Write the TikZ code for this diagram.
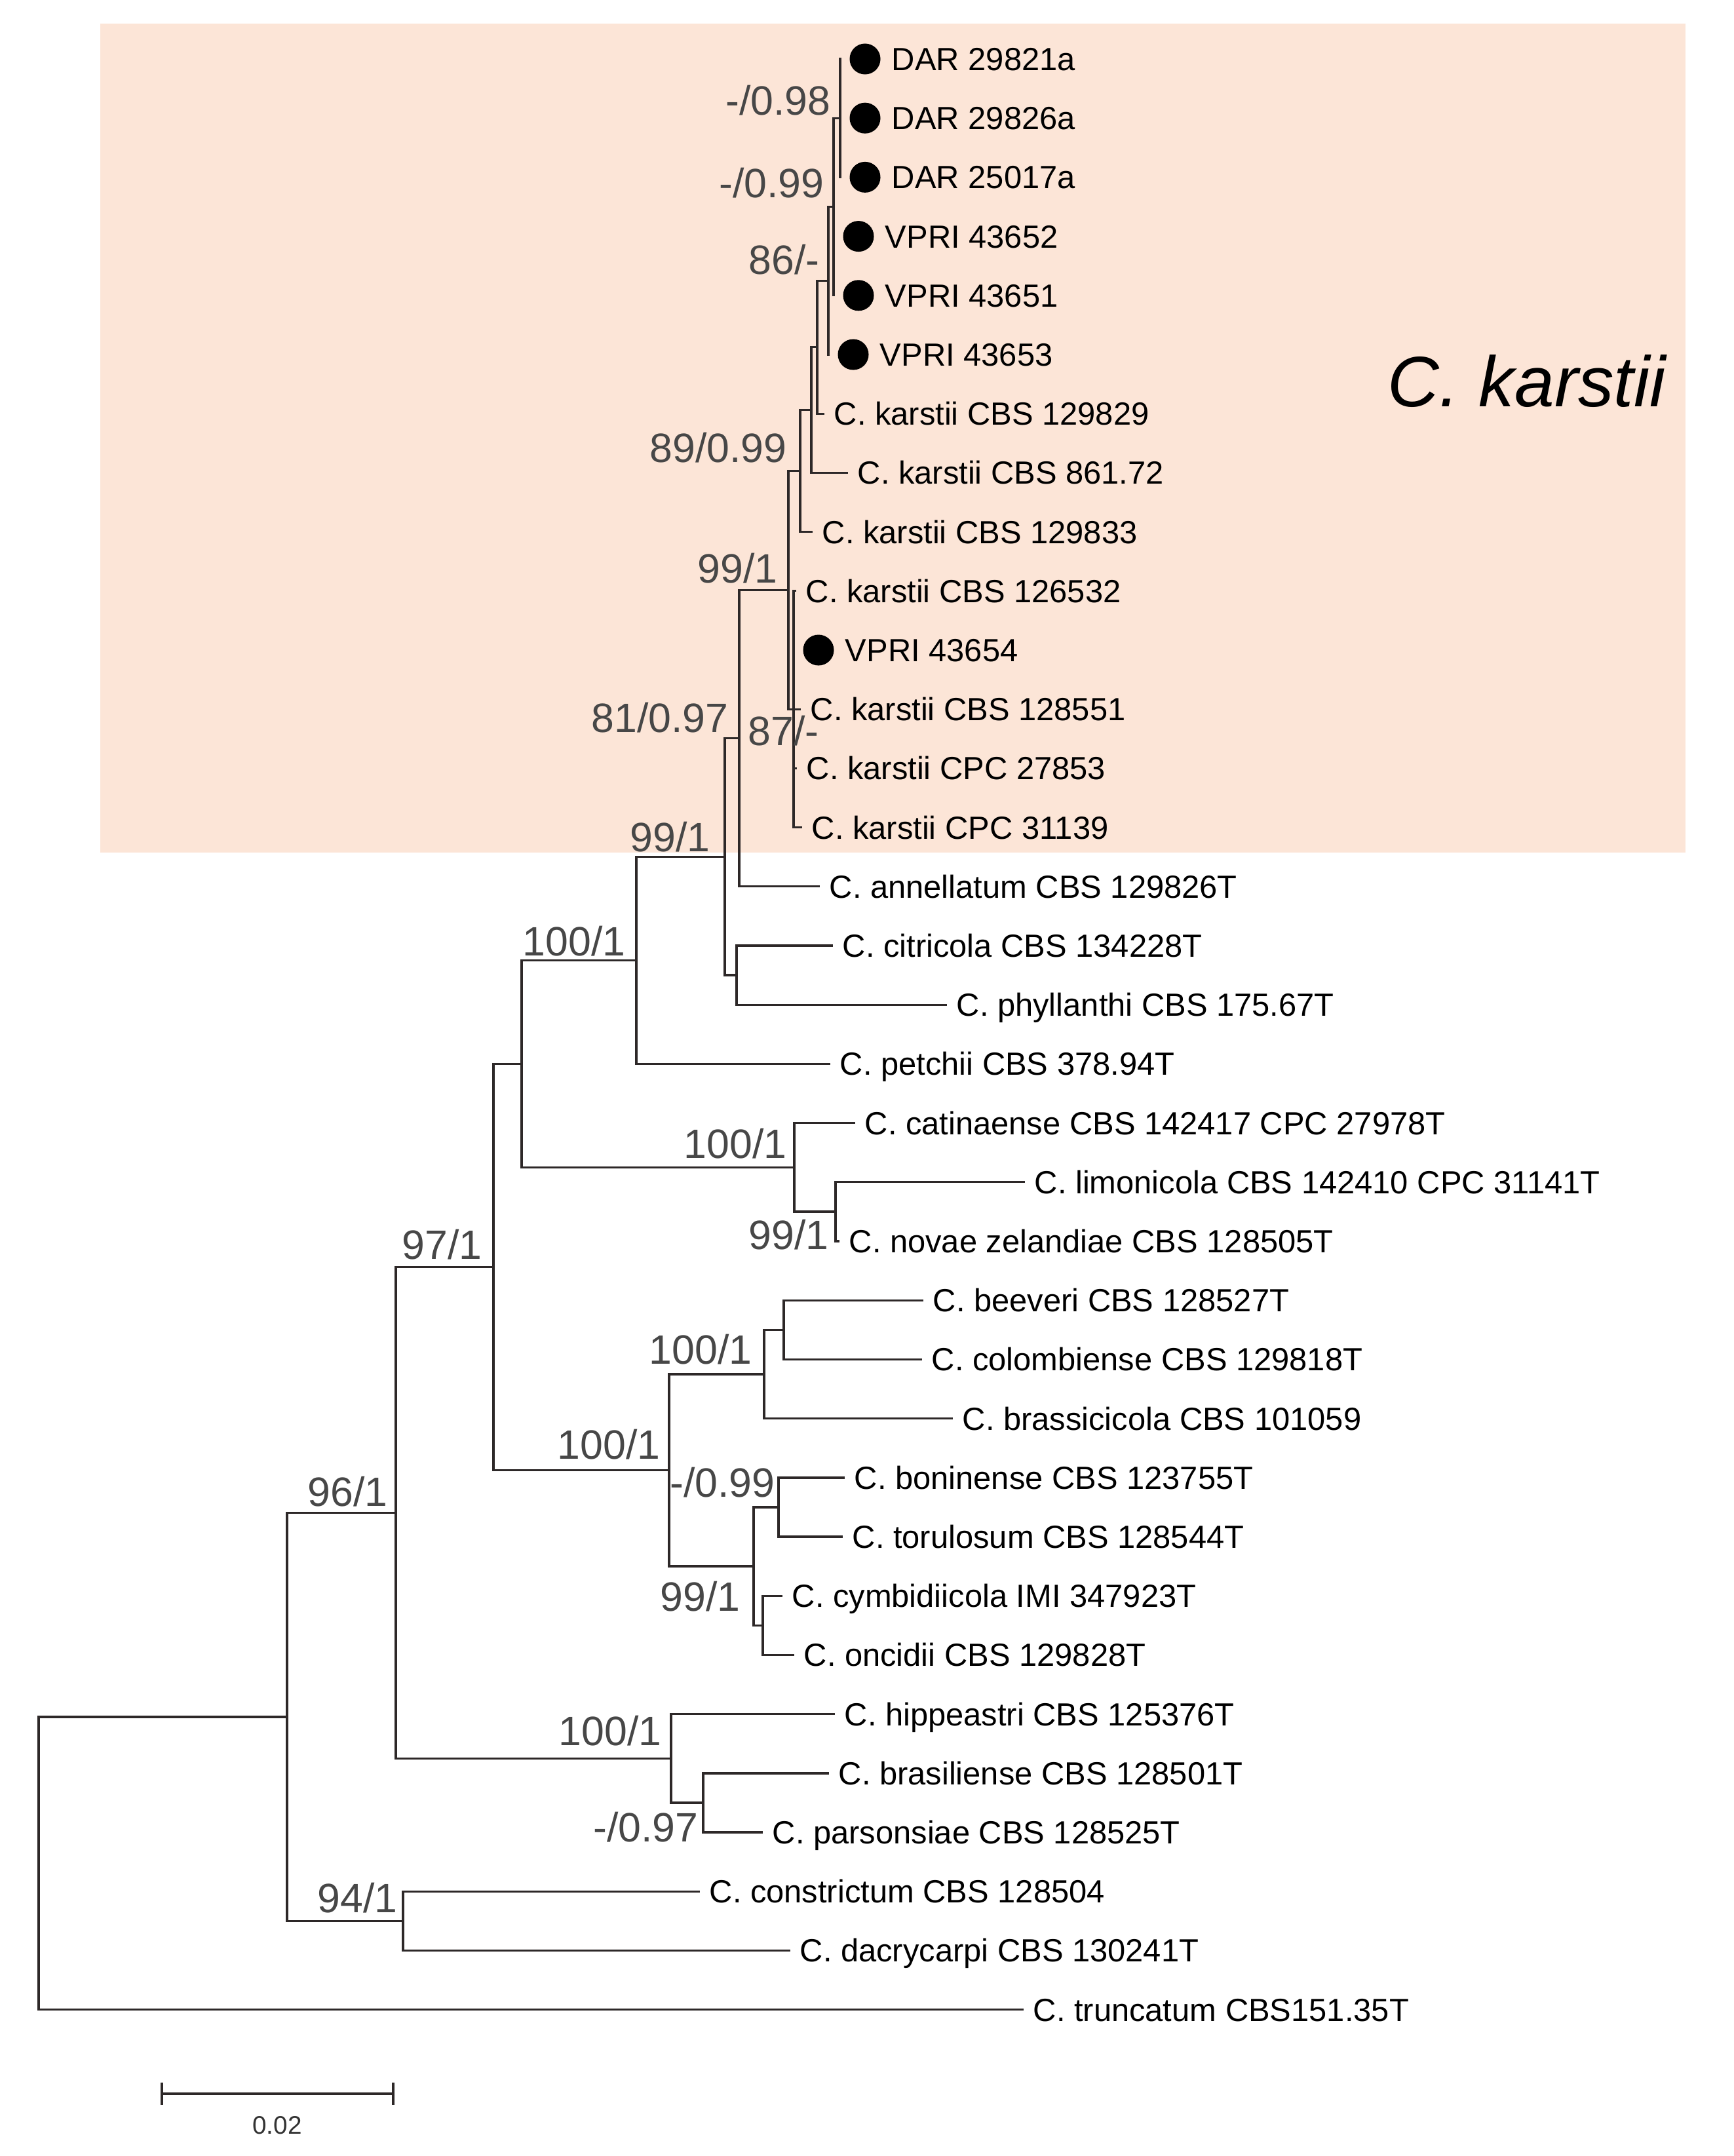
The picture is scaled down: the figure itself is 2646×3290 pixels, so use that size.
\documentclass[tikz,border=0pt]{standalone}
\usepackage{fontspec}
\setmainfont{Liberation Sans}
\usepackage{tikz}
\usetikzlibrary{calc,positioning}
\definecolor{cladebg}{RGB}{252,229,215}
\definecolor{branchcol}{RGB}{45,40,40}

\tikzset{
  branch/.style={draw=branchcol, line width=0.95pt, line cap=rect},
  taxon/.style={anchor=base west, inner sep=0pt, xshift=0.16cm, yshift=-0.175cm, font=\fontsize{13.9}{16}\selectfont},
  support/.style={anchor=base east, inner sep=0pt, yshift=-0.225cm, text=black!72, font=\fontsize{17.8}{20}\selectfont},
  isodot/.style={circle, fill=black, inner sep=0pt, minimum size=0.47cm},
}

\begin{document}
\begin{tikzpicture}[x=0.01cm, y=-0.01cm]
\useasboundingbox (0,0) rectangle (2646,3290);
\fill[white] (0,0) rectangle (2646,3290);
% shaded clade
\fill[cladebg] (153,36) rectangle (2572,1301);
\node[anchor=base west, inner sep=0pt, yshift=-11.1pt, font=\fontsize{31}{36}\selectfont\itshape] (karstii) at (2117,581) {C. karstii};

% isolates (dots)
\foreach \r/\tx/\txt in {0/1282/DAR 29821a, 1/1282/DAR 29826a, 2/1282/DAR 25017a,
    3/1272/VPRI 43652, 4/1272/VPRI 43651, 5/1264/VPRI 43653, 10/1211/VPRI 43654}{
  \coordinate (t\r) at (\tx,{90+90.2*\r});
  \node[isodot] (d\r) at ($(t\r)+(38,0)$) {};
  \node[taxon] (l\r) at (d\r.east) {\txt};
}

% reference taxa
\foreach \r/\tx/\txt in {6/1256/C. karstii CBS 129829, 7/1292/C. karstii CBS 861.72,
    8/1238/C. karstii CBS 129833, 9/1213/C. karstii CBS 126532, 11/1220/C. karstii CBS 128551,
    12/1214/C. karstii CPC 27853, 13/1222/C. karstii CPC 31139,
    14/1249/C. annellatum CBS 129826T, 15/1269/C. citricola CBS 134228T,
    16/1443/C. phyllanthi CBS 175.67T, 17/1265/C. petchii CBS 378.94T,
    18/1303/C. catinaense CBS 142417 CPC 27978T, 19/1562/C. limonicola CBS 142410 CPC 31141T,
    20/1279/C. novae zelandiae CBS 128505T, 21/1407/C. beeveri CBS 128527T,
    22/1405/C. colombiense CBS 129818T, 23/1452/C. brassicicola CBS 101059,
    24/1287/C. boninense CBS 123755T, 25/1284/C. torulosum CBS 128544T,
    26/1192/C. cymbidiicola IMI 347923T, 27/1210/C. oncidii CBS 129828T,
    28/1272/C. hippeastri CBS 125376T, 29/1263/C. brasiliense CBS 128501T,
    30/1162/C. parsonsiae CBS 128525T, 31/1066/C. constrictum CBS 128504,
    32/1204/C. dacrycarpi CBS 130241T, 33/1560/C. truncatum CBS151.35T}{
  \coordinate (t\r) at (\tx,{90+90.2*\r});
  \node[taxon] (l\r) at (t\r) {\txt};
}

% internal nodes
\coordinate (n1) at (1282,180.2);
\coordinate (n2) at (1272,315.5);
\coordinate (n3) at (1264,428.3);
\coordinate (n4) at (1247,529.7);
\coordinate (n5) at (1238,625.6);
\coordinate (n6) at (1221,718.6);
\coordinate (n9) at (1211,1082.2);
\coordinate (n7) at (1203,900.4);
\coordinate (n8) at (1128,1126.6);
\coordinate (n12) at (1124,1488.1);
\coordinate (n10) at (1106,1307.4);
\coordinate (n11) at (971,1465.4);
\coordinate (n19) at (1275,1848.9);
\coordinate (n14) at (1212,1781.3);
\coordinate (n13) at (796,1623.3);
\coordinate (n21) at (1196,2029.3);
\coordinate (n20) at (1166,2097);
\coordinate (n23) at (1188,2299.9);
\coordinate (n24) at (1164,2480.3);
\coordinate (n22) at (1150,2390.1);
\coordinate (n18) at (1021,2243.6);
\coordinate (n15) at (753,1933.4);
\coordinate (n28) at (1073,2750.9);
\coordinate (n25) at (1024,2683.3);
\coordinate (n16) at (604,2308.4);
\coordinate (n29) at (615,2931.3);
\coordinate (n27) at (438,2619.9);
\coordinate (n30) at (59,2843.2);

% branches
\foreach \p/\c in {n1/t0,n1/t1,n1/t2, n2/n1,n2/t3,n2/t4, n3/n2,n3/t5, n4/n3,n4/t6,
    n5/n4,n5/t7, n6/n5,n6/t8, n7/n6,n7/n9, n9/t9,n9/t10,n9/t11,n9/t12,n9/t13,
    n8/n7,n8/t14, n12/t15,n12/t16, n10/n8,n10/n12, n11/n10,n11/t17,
    n19/t19,n19/t20, n14/t18,n14/n19, n13/n11,n13/n14,
    n21/t21,n21/t22, n20/n21,n20/t23, n23/t24,n23/t25, n24/t26,n24/t27,
    n22/n23,n22/n24, n18/n20,n18/n22, n15/n13,n15/n18,
    n28/t29,n28/t30, n25/t28,n25/n28, n16/n15,n16/n25,
    n29/t31,n29/t32, n27/n16,n27/n29, n30/n27,n30/t33}
  \draw[branch] (\p) |- (\c);

% support values
\node[support] (bs1) at (1268,153) {-/0.98};
\node[support] (bs2) at (1258,279) {-/0.99};
\node[support] (bs3) at (1251,396) {86/-};
\node[support] (bs4) at (1201,683) {89/0.99};
\node[support] (bs5) at (1187,867) {99/1};
\node[support] (bs6) at (1112,1095) {81/0.97};
\node[support] (bs7) at (1250,1115) {87/-};
\node[support] (bs8) at (1084,1277) {99/1};
\node[support] (bs9) at (955,1436) {100/1};
\node[support] (bs10) at (1201,1745) {100/1};
\node[support] (bs11) at (1265,1884) {99/1};
\node[support] (bs12) at (736,1899) {97/1};
\node[support] (bs13) at (1148,2059) {100/1};
\node[support] (bs14) at (1008,2204) {100/1};
\node[support] (bs15) at (1183,2262) {-/0.99};
\node[support] (bs16) at (1130,2436) {99/1};
\node[support] (bs17) at (592,2276) {96/1};
\node[support] (bs18) at (1010,2641) {100/1};
\node[support] (bs19) at (1066,2788) {-/0.97};
\node[support] (bs20) at (607,2896) {94/1};

% scale bar
\coordinate (sbL) at (247,3195);
\coordinate (sbR) at (600,3195);
\draw[branch, line cap=butt] (sbL) -- (sbR);
\draw[branch, line cap=butt] ($(sbL)+(0,-17)$) -- ($(sbL)+(0,17)$);
\draw[branch, line cap=butt] ($(sbR)+(0,-17)$) -- ($(sbR)+(0,17)$);
\node[anchor=base, inner sep=0pt, yshift=-3.9pt, text=black!80, font=\fontsize{11}{13}\selectfont] (sblabel) at (423,3243) {0.02};
\end{tikzpicture}
\end{document}
